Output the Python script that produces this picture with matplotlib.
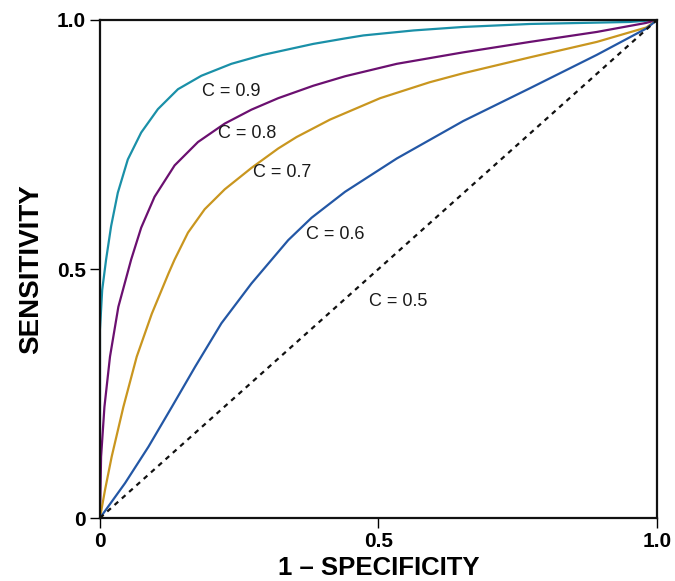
import matplotlib
matplotlib.use('Agg')
import matplotlib.pyplot as plt

plt.rcParams['font.family'] = ['Liberation Sans', 'DejaVu Sans']

# ROC curves (1 - specificity, sensitivity)
c9_x = [0, 0, 0.004, 0.011, 0.020, 0.032, 0.050, 0.074, 0.104, 0.140, 0.182, 0.236, 0.293,
        0.383, 0.44, 0.473, 0.563, 0.652, 0.772, 0.95, 1.0]
c9_y = [0, 0.378, 0.458, 0.519, 0.586, 0.653, 0.720, 0.774, 0.821, 0.861, 0.888, 0.912, 0.930,
        0.952, 0.963, 0.969, 0.979, 0.986, 0.992, 0.996, 1.0]

c8_x = [0, 0.002, 0.008, 0.018, 0.033, 0.056, 0.074, 0.098, 0.134, 0.176, 0.224, 0.272, 0.320,
        0.383, 0.44, 0.533, 0.652, 0.772, 0.892, 0.98, 1.0]
c8_y = [0, 0.123, 0.223, 0.324, 0.424, 0.519, 0.583, 0.645, 0.708, 0.755, 0.792, 0.820, 0.843,
        0.868, 0.887, 0.912, 0.935, 0.956, 0.976, 0.994, 1.0]

c7_x = [0, 0.009, 0.021, 0.042, 0.066, 0.093, 0.123, 0.134, 0.158, 0.188, 0.224, 0.272, 0.320,
        0.353, 0.413, 0.503, 0.592, 0.652, 0.772, 0.892, 0.981, 1.0]
c7_y = [0, 0.056, 0.123, 0.223, 0.324, 0.410, 0.491, 0.519, 0.573, 0.620, 0.660, 0.703, 0.742,
        0.765, 0.800, 0.843, 0.875, 0.893, 0.925, 0.956, 0.985, 1.0]

c6_x = [0, 0.045, 0.087, 0.129, 0.171, 0.218, 0.272, 0.338, 0.38, 0.44, 0.533, 0.652, 0.772,
        0.892, 0.981, 1.0]
c6_y = [0, 0.070, 0.143, 0.223, 0.304, 0.391, 0.471, 0.558, 0.603, 0.655, 0.722, 0.797, 0.863,
        0.930, 0.983, 1.0]

c5_x = [0, 1]
c5_y = [0, 1]

labels = ['C = 0.9', 'C = 0.8', 'C = 0.7', 'C = 0.6', 'C = 0.5']
label_x = [0.183, 0.212, 0.275, 0.370, 0.483]
label_y = [0.857, 0.773, 0.693, 0.570, 0.435]

ticks = [0, 0.5, 1.0]
tick_labels = ['0', '0.5', '1.0']

fig = plt.figure(figsize=(6.75, 5.81), dpi=100)
ax = fig.add_axes([0.1481, 0.1084, 0.8252, 0.8572])

kw = dict(lw=1.6, solid_joinstyle='round', solid_capstyle='round')
ax.plot(c9_x, c9_y, color='#1a90a8', **kw)
ax.plot(c8_x, c8_y, color='#6b1070', **kw)
ax.plot(c7_x, c7_y, color='#c9961f', **kw)
ax.plot(c6_x, c6_y, color='#2357a5', **kw)
ax.plot(c5_x, c5_y, color='#111111', lw=1.6, linestyle=(0, (2.2, 2.2)))

for t, x, y in zip(labels, label_x, label_y):
    ax.text(x, y, t, fontsize=13, ha='left', va='center', color='#1a1a1a')

ax.set_xlim(0, 1)
ax.set_ylim(0, 1)
ax.set_xticks(ticks)
ax.set_xticklabels(tick_labels)
ax.set_yticks(ticks)
ax.set_yticklabels(tick_labels)
ax.tick_params(direction='out', length=7, width=1.0, labelsize=15, pad=3)
for lab in ax.get_xticklabels() + ax.get_yticklabels():
    lab.set_fontweight('bold')
for s in ax.spines.values():
    s.set_linewidth(1.6)
    s.set_color('#111111')

ax.set_xlabel('1 – SPECIFICITY', fontsize=18.5, fontweight='bold', labelpad=3.5)
ax.set_ylabel('SENSITIVITY', fontsize=20, fontweight='bold', labelpad=9)

fig.savefig('out.png', dpi=100)
